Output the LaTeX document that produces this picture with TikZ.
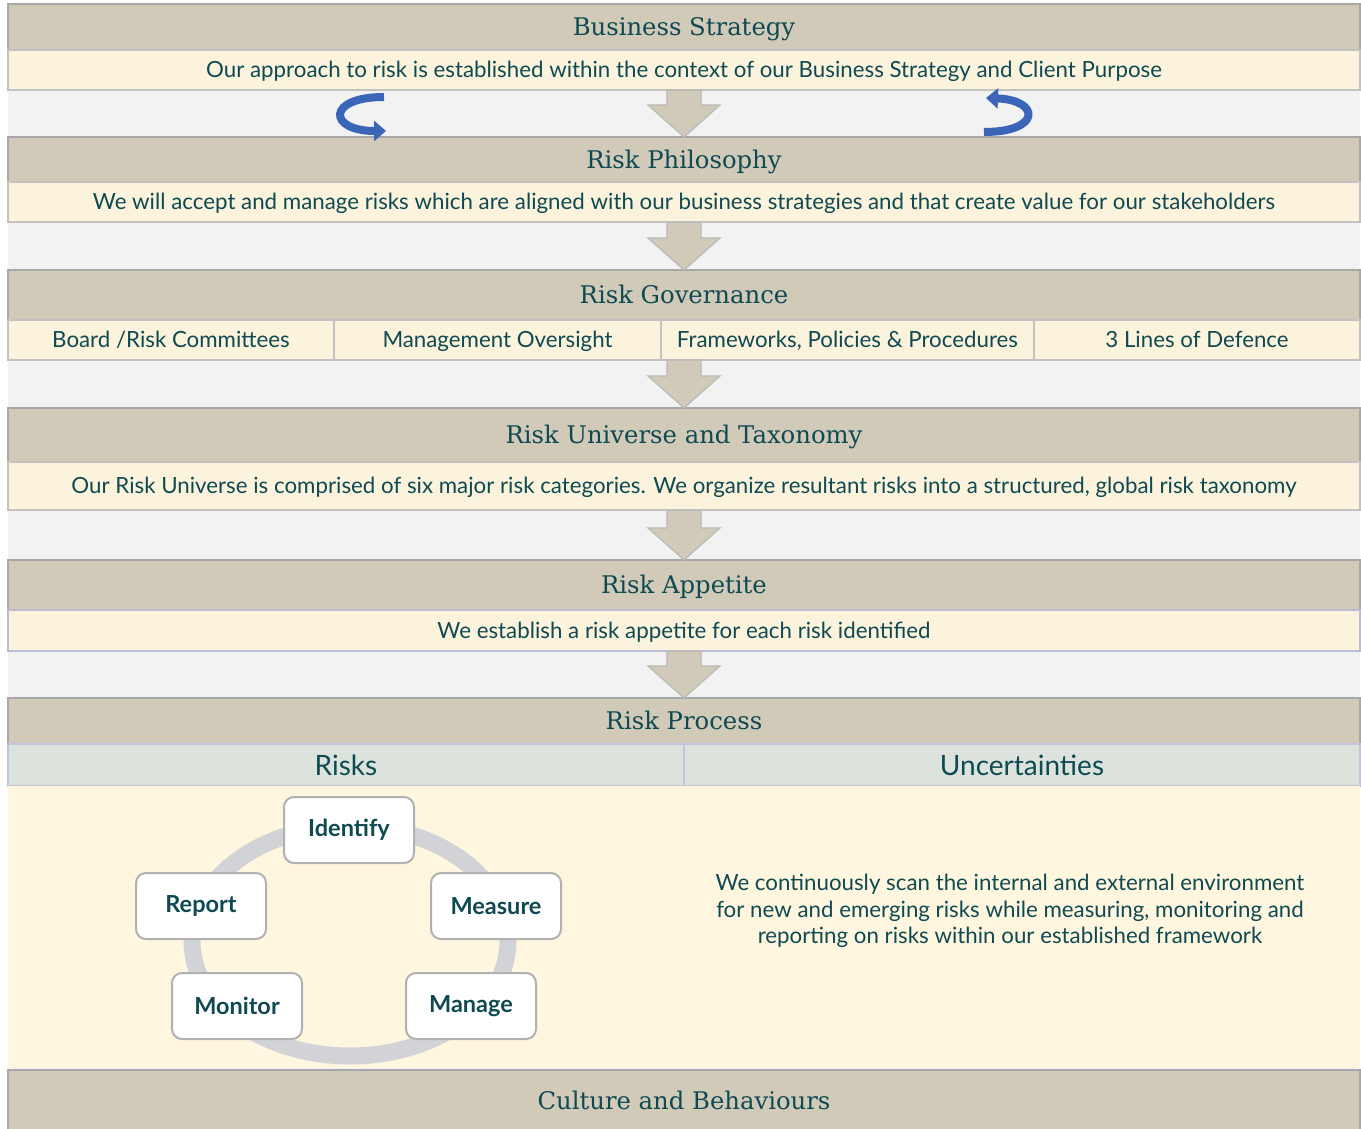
\documentclass[tikz,border=0pt]{standalone}
\usepackage{fontspec}
\setmainfont{Lato}
\newfontfamily\headfont{DejaVu Serif}
\usetikzlibrary{positioning,calc,arrows.meta}
\definecolor{bandtan}{HTML}{D1CAB9}
\definecolor{rowcream}{HTML}{FBF3DC}
\definecolor{bodycream}{HTML}{FEF6DF}
\definecolor{gapgrey}{HTML}{F2F2F2}
\definecolor{edgegrey}{HTML}{A8A8A8}
\definecolor{inkteal}{HTML}{0F4A52}
\definecolor{riskrow}{HTML}{DCE3DC}
\definecolor{ringgrey}{HTML}{D2D3D6}
\definecolor{loopblue}{HTML}{3B66B8}
\tikzset{
  hdr/.style={draw=edgegrey, line width=1.5pt, fill=bandtan, minimum width=1352pt,
    inner sep=0pt, outer sep=0pt, text=inkteal, text height=21pt, text depth=4pt,
    font=\headfont\fontsize{24.3}{30}\selectfont},
  row/.style={draw=edgegrey!70, line width=1.2pt, fill=rowcream, minimum width=1352pt,
    inner sep=0pt, outer sep=0pt, text=inkteal, text height=20pt, text depth=5pt,
    font=\fontsize{22.3}{26}\selectfont},
  flowarr/.style={fill=bandtan, draw=edgegrey!80, line width=1.2pt},
  cyclearr/.style={draw=loopblue, line width=8pt, -{Triangle[width=20pt,length=12pt]}},
  stepbox/.style={draw=edgegrey!90, line width=2pt, fill=white, rounded corners=10pt,
    minimum width=130pt, minimum height=66pt, text=inkteal, font=\bfseries\fontsize{23.5}{26}\selectfont}
}
% down arrow between two bands
\newcommand\flowdown[2]{%
  \draw[flowarr] ($(#1.south)+(-17,0)$) -- ($(#1.south)+(17,0)$) -- ($(#2.north)+(17,-32)$)
    -- ($(#2.north)+(36,-32)$) -- (#2.north) -- ($(#2.north)+(-36,-32)$)
    -- ($(#2.north)+(-17,-32)$) -- cycle;}
\begin{document}
\begin{tikzpicture}[x=1pt,y=-1pt]
\useasboundingbox (0,0) rectangle (1361,1129);
\fill[white] (0,0) rectangle (1361,1129);
\fill[gapgrey] (8,4) rectangle (1360,1129);

% Business Strategy
\node[hdr, minimum height=46pt, anchor=north] (bsHead) at (684,4) {Business Strategy};
\node[row, minimum height=40pt, below=0pt of bsHead] (bsRow) {Our approach to risk is established within the context of our Business Strategy and Client Purpose};

% Risk Philosophy
\node[hdr, minimum height=45pt, below=47pt of bsRow] (phHead) {Risk Philosophy};
\node[row, minimum height=40pt, below=0pt of phHead] (phRow) {We will accept and manage risks which are aligned with our business strategies and that create value for our stakeholders};
\flowdown{bsRow}{phHead}
\draw[cyclearr] (384,97) .. controls (326,97) and (328,131) .. (386,131);
\draw[cyclearr] (984,132) .. controls (1042,132) and (1040,100) .. (986,98);

% Risk Governance
\node[hdr, minimum height=50pt, below=48pt of phRow] (rgHead) {Risk Governance};
\node[row, minimum width=326pt, minimum height=40pt, anchor=north west] (rgBoard) at (rgHead.south west) {Board /Risk Committees};
\node[row, minimum width=327pt, minimum height=40pt, right=0pt of rgBoard] (rgMgmt) {Management Oversight};
\node[row, minimum width=373pt, minimum height=40pt, right=0pt of rgMgmt] (rgFrame) {Frameworks, Policies \& Procedures};
\node[row, minimum width=326pt, minimum height=40pt, right=0pt of rgFrame] (rgLines) {3 Lines of Defence};
\flowdown{phRow}{rgHead}
\coordinate (rgBottom) at (rgHead.south |- rgMgmt.south);

% Risk Universe and Taxonomy
\node[hdr, minimum height=54pt, anchor=north] (ruHead) at ($(rgBottom)+(0,48)$) {Risk Universe and Taxonomy};
\node[row, minimum height=48pt, below=0pt of ruHead] (ruRow) {Our Risk Universe is comprised of six major risk categories. We organize resultant risks into a structured, global risk taxonomy};
\draw[flowarr] ($(rgBottom)+(-17,0)$) -- ($(rgBottom)+(17,0)$) -- ($(ruHead.north)+(17,-32)$)
    -- ($(ruHead.north)+(36,-32)$) -- (ruHead.north) -- ($(ruHead.north)+(-36,-32)$)
    -- ($(ruHead.north)+(-17,-32)$) -- cycle;

% Risk Appetite
\node[hdr, minimum height=50pt, below=50pt of ruRow] (raHead) {Risk Appetite};
\node[row, draw=blue!15!edgegrey!60, minimum height=41pt, below=0pt of raHead] (raRow) {We establish a risk appetite for each risk identified};
\flowdown{ruRow}{raHead}

% Risk Process
\node[hdr, minimum height=46pt, below=47pt of raRow] (rpHead) {Risk Process};
\node[row, fill=riskrow, draw=blue!20!edgegrey!50, minimum width=676pt, minimum height=42pt,
  text height=25pt, text depth=5pt, font=\fontsize{28}{30}\selectfont, anchor=north west] (rpRisks) at (rpHead.south west) {Risks};
\node[row, fill=riskrow, draw=blue!20!edgegrey!50, minimum width=676pt, minimum height=42pt,
  text height=25pt, text depth=5pt, font=\fontsize{28}{30}\selectfont, right=0pt of rpRisks] (rpUnc) {Uncertainties};
\flowdown{raRow}{rpHead}
\node[row, fill=bodycream, draw=none, minimum height=282pt, anchor=north] (rpBody) at (rpRisks.south east) {};

% cycle
\coordinate (cyc) at (350,941);
\draw[ringgrey, line width=17pt] (cyc) ellipse [x radius=158pt, y radius=115pt];
\node[stepbox] (idf) at (349,830) {Identify};
\node[stepbox] (msr) at (496,906) {Measure};
\node[stepbox] (mng) at (471,1006) {Manage};
\node[stepbox] (mon) at (237,1006) {Monitor};
\node[stepbox] (rep) at (201,906) {Report};

\node[text=inkteal, align=center, font=\fontsize{22.3}{26.5}\selectfont] (scan) at (1010,911)
  {We continuously scan the internal and external environment\\for new and emerging risks while measuring, monitoring and\\reporting on risks within our established framework};

% Culture and Behaviours
\node[hdr, minimum height=62pt, below=2pt of rpBody] (cbHead) {Culture and Behaviours};
\end{tikzpicture}
\end{document}
